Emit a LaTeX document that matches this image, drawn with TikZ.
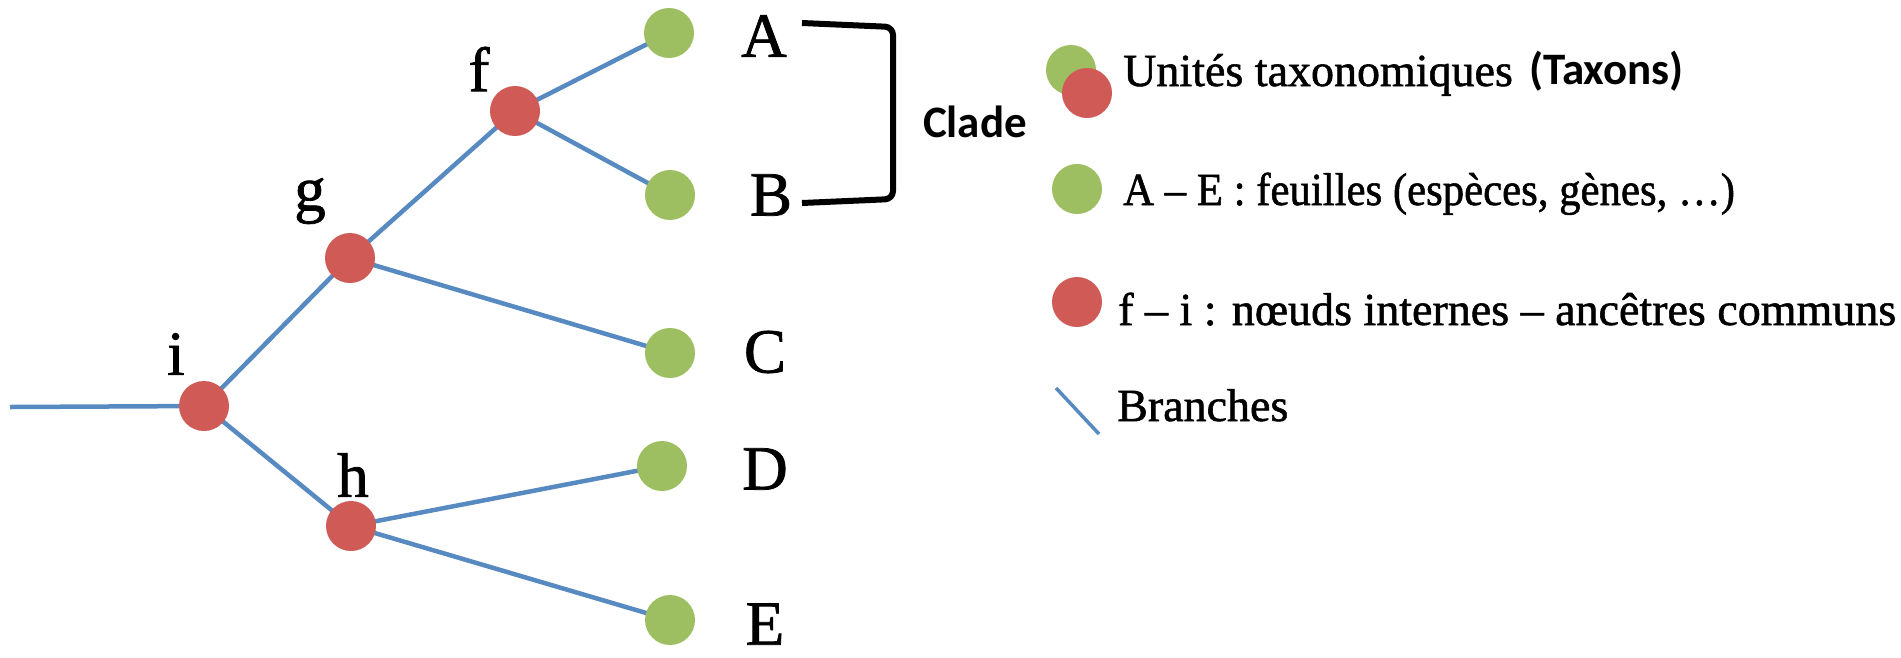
\documentclass[tikz,border=0pt]{standalone}
\usepackage{fontspec}
\setmainfont{Liberation Serif}[FakeBold=1.2]
\newfontfamily\calfont{Carlito}
\usetikzlibrary{backgrounds}

\definecolor{leafgreen}{RGB}{158,190,98}
\definecolor{nodered}{RGB}{207,90,86}
\definecolor{branchblue}{RGB}{88,138,194}

\tikzset{
  leaf/.style={circle, fill=leafgreen, inner sep=0pt, minimum size=50pt},
  inner/.style={circle, fill=nodered, inner sep=0pt, minimum size=50pt},
  branch/.style={draw=branchblue, line width=4.5pt},
  treelabel/.style={inner sep=0pt, font=\fontsize{63}{70}\selectfont},
  legtext/.style={inner sep=0pt, anchor=base west, font=\fontsize{46}{52}\selectfont},
  boldsans/.style={inner sep=0pt, font=\calfont\bfseries\fontsize{45}{52}\selectfont},
  bracketline/.style={draw=black, line width=6pt, rounded corners=8pt}
}

\begin{document}
\begin{tikzpicture}[x=1pt, y=-1pt]
  \useasboundingbox (0,0) rectangle (1901,657);

  % internal nodes
  \node[inner] (i) at (204,406) {};
  \node[inner] (g) at (350,258) {};
  \node[inner] (f) at (515,111) {};
  \node[inner] (h) at (351,526) {};
  % leaves
  \node[leaf] (A) at (669,33) {};
  \node[leaf] (B) at (670,195) {};
  \node[leaf] (C) at (670,353) {};
  \node[leaf] (D) at (662,466) {};
  \node[leaf] (E) at (670,620) {};
  \coordinate (root) at (10,407);

  % branches
  \begin{scope}[on background layer]
    \draw[branch] (root) -- (i.center);
    \draw[branch] (i.center) -- (g.center);
    \draw[branch] (i.center) -- (h.center);
    \draw[branch] (g.center) -- (f.center);
    \draw[branch] (g.center) -- (C.center);
    \draw[branch] (f.center) -- (A.center);
    \draw[branch] (f.center) -- (B.center);
    \draw[branch] (h.center) -- (D.center);
    \draw[branch] (h.center) -- (E.center);
  \end{scope}

  % node labels
  \node[treelabel] (li) at (176,354) {i};
  \node[treelabel] (lg) at (310,201) {g};
  \node[treelabel] (lf) at (479,69) {f};
  \node[treelabel] (lh) at (353,475) {h};
  \node[treelabel] (lA) at (764,36) {A};
  \node[treelabel] (lB) at (771,195) {B};
  \node[treelabel] (lC) at (765,352) {C};
  \node[treelabel] (lD) at (765,469) {D};
  \node[treelabel] (lE) at (765,624) {E};

  % clade bracket
  \coordinate (c1) at (802,23);
  \coordinate (c2) at (893,27);
  \coordinate (c3) at (893,199);
  \coordinate (c4) at (802,203);
  \draw[bracketline] (c1) -- (c2) -- (c3) -- (c4);
  \node[boldsans] (clade) at (975,122) {Clade};

  % legend
  \node[leaf] (kg1) at (1071,70) {};
  \node[inner] (kr1) at (1087,93) {};
  \node[legtext] (t1) at (1123,86) {Unités taxonomiques};
  \node[boldsans, anchor=base west] (t1b) at (1529,84) {(Taxons)};

  \node[leaf] (kg2) at (1077,189) {};
  \node[legtext, xscale=0.93, transform shape] (t2) at (1123,205) {A – E : feuilles (espèces, gènes, …)};

  \node[inner] (kr3) at (1077,302) {};
  \node[legtext] (t3) at (1118,325) {f – i : nœuds internes – ancêtres communs};

  \coordinate (kb1) at (1056,388);
  \coordinate (kb2) at (1099,434);
  \draw[draw=branchblue, line width=3.5pt] (kb1) -- (kb2);
  \node[legtext] (t4) at (1117,421) {Branches};
\end{tikzpicture}
\end{document}
